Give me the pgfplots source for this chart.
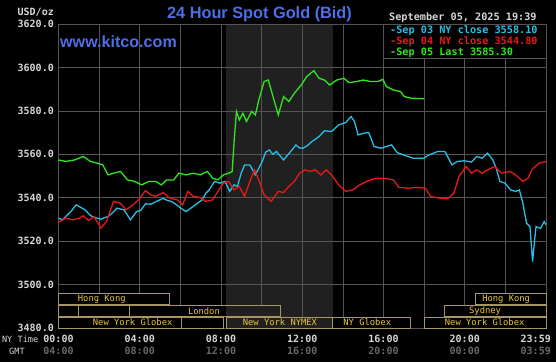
\documentclass[border=0pt]{standalone}
\usepackage{pgfplots}
\pgfplotsset{compat=1.18}
\usepackage{fontspec}
\setmainfont{Liberation Sans}
\newfontfamily\mono{DejaVu Sans Mono}
\definecolor{kcyan}{RGB}{40,190,230}
\definecolor{kred}{RGB}{232,25,25}
\definecolor{kgreen}{RGB}{50,230,30}
\definecolor{kgrid}{RGB}{85,85,85}
\definecolor{kshade}{RGB}{32,32,32}
\definecolor{kbox}{RGB}{165,150,100}
\definecolor{kgold}{RGB}{232,200,60}
\definecolor{ktitle}{RGB}{80,110,230}
\definecolor{klabel}{RGB}{215,215,215}
\definecolor{kgmt}{RGB}{105,105,105}
\begin{document}
\begin{tikzpicture}[x=1pt,y=1pt]
\fill[black] (-58.5,-34) rectangle (497.5,328);
\fill[kshade] (167.6,0) rectangle (274.2,304);
\begin{axis}[at={(0,0)}, anchor=south west, scale only axis,
  width=487.5pt, height=304pt,
  xmin=0, xmax=24, ymin=3480, ymax=3620,
  xtick={0,2,...,24}, xticklabels={},
  ytick={3480,3500,...,3620},
  yticklabels={3480.0,3500.0,3520.0,3540.0,3560.0,3580.0,3600.0,3620.0},
  yticklabel style={font=\mono\bfseries\fontsize{10}{12}\selectfont, text=klabel, inner sep=0pt, xshift=-4.5pt},
  major tick length=0pt,
  grid=major, grid style={kgrid, line width=0.6pt},
  axis line style={kgrid, line width=0.6pt},
]
\addplot[kcyan, line width=1.3pt] coordinates {
(0,3530.6) (0.2,3529.8) (0.35,3531.3) (0.6,3533.5) (0.87,3536.7) (1.05,3535.8) (1.31,3534.4) (1.5,3532.5) (1.66,3531.3) (2.09,3530.1)
(2.25,3530.8) (2.44,3531.3) (2.65,3533.0) (2.88,3535.2) (3.23,3534.4) (3.54,3529.8) (3.84,3533.6) (4.05,3534.2) (4.28,3537.2)
(4.55,3537.0) (4.80,3538.2) (5.15,3539.7) (5.35,3538.8) (5.58,3538.2) (5.8,3536.8) (6.02,3535.2) (6.28,3533.6) (6.63,3536.0)
(7.07,3539.0) (7.25,3542.0) (7.42,3543.6) (7.68,3547.5) (7.94,3546.7) (8.20,3547.5) (8.43,3542.9)
(8.64,3545.9) (8.81,3545.2) (9.0,3551.5) (9.16,3555.1) (9.42,3555.1) (9.69,3550.5) (10.03,3556.7)
(10.2,3561.0) (10.38,3562.0) (10.55,3560.0) (10.73,3561.3) (11.08,3557.4) (11.43,3561.3) (11.69,3564.3) (11.85,3563.0) (12.04,3562.8)
(12.25,3564.0) (12.48,3565.9) (12.83,3568.2) (13.09,3570.8) (13.44,3570.5) (13.79,3573.5) (14.14,3574.6)
(14.40,3577.4) (14.57,3575.1) (14.75,3568.9) (15.01,3569.7) (15.27,3570.0) (15.4,3567.0) (15.53,3563.6)
(15.88,3562.8) (16.14,3563.6) (16.40,3564.3) (16.67,3560.8) (17.10,3559.3) (17.45,3558.2)
(17.98,3558.2) (18.24,3559.7) (18.67,3561.3) (19.02,3561.3) (19.20,3558.2) (19.37,3555.1)
(19.63,3556.7) (19.98,3557.0) (20.33,3556.4) (20.59,3559.0) (20.86,3558.2) (21.12,3560.5)
(21.38,3557.4) (21.55,3553.6) (21.73,3547.5) (21.99,3546.7) (22.25,3543.6) (22.51,3542.9)
(22.69,3543.6) (22.86,3537.5) (23.04,3528.3) (23.21,3526.7) (23.34,3510.6) (23.44,3520.6)
(23.51,3526.7) (23.73,3525.9) (23.91,3529.0) (24.0,3527.5)
};
\addplot[kred, line width=1.3pt] coordinates {
(0,3528.6) (0.35,3530.6) (0.70,3529.8) (1.0,3530.5) (1.22,3531.7) (1.48,3529.5) (1.75,3531.3)
(2.09,3526.0) (2.36,3529.0) (2.71,3538.3) (3.05,3537.5) (3.32,3534.4) (3.66,3536.7)
(4.01,3539.7) (4.28,3543.3) (4.54,3541.3) (4.80,3540.6) (5.15,3542.4) (5.50,3539.7)
(5.85,3539.0) (6.11,3536.7) (6.37,3542.9) (6.63,3540.6) (6.98,3540.1) (7.24,3538.3)
(7.59,3539.0) (7.85,3542.9) (8.12,3546.7) (8.38,3547.5) (8.64,3543.6) (8.90,3545.2)
(9.16,3540.6) (9.42,3547.5) (9.65,3552.8) (9.86,3548.2) (10.12,3541.3) (10.47,3538.3)
(10.82,3542.9) (11.08,3542.4) (11.34,3545.2) (11.61,3547.5) (11.87,3551.3) (12.13,3552.8)
(12.39,3552.1) (12.65,3552.8) (12.91,3550.5) (13.18,3552.8) (13.44,3550.5) (13.79,3545.9)
(14.14,3542.9) (14.49,3543.6) (14.83,3545.9) (15.18,3547.5) (15.62,3549.0) (16.06,3549.0)
(16.49,3548.2) (16.75,3544.8) (17.19,3544.4) (17.71,3544.7) (18.06,3544.4) (18.32,3540.6)
(18.76,3539.8) (19.20,3539.8) (19.46,3542.1) (19.72,3549.8) (20.07,3554.4) (20.33,3551.3)
(20.59,3552.8) (20.86,3551.3) (21.12,3552.8) (21.47,3554.4) (21.82,3551.3) (22.25,3552.1)
(22.60,3549.8) (22.86,3547.5) (23.12,3549.0) (23.30,3552.8) (23.65,3555.9) (24.0,3556.7)
};
\addplot[kgreen, line width=1.3pt] coordinates {
(0,3557.4) (0.35,3556.7) (0.79,3557.4) (1.22,3559.0) (1.57,3556.7) (1.92,3555.9)
(2.18,3555.1) (2.44,3550.5) (2.71,3551.3) (3.05,3552.1) (3.40,3548.2) (3.75,3547.5)
(4.10,3545.9) (4.45,3547.5) (4.80,3547.5) (5.06,3545.9) (5.32,3548.2) (5.67,3548.2)
(5.93,3551.3) (6.28,3550.5) (6.63,3551.3) (6.98,3550.5) (7.33,3552.1) (7.59,3549.0)
(7.85,3548.2) (8.12,3550.5) (8.38,3551.3) (8.55,3552.1) (8.64,3565.1) (8.76,3579.7)
(8.90,3575.8) (9.08,3578.9) (9.25,3575.1) (9.51,3579.7) (9.69,3578.1) (9.86,3585.0)
(10.12,3593.5) (10.33,3594.2) (10.56,3586.6) (10.82,3578.1) (11.08,3586.6) (11.34,3584.3)
(11.61,3588.1) (11.95,3591.9) (12.22,3595.8) (12.57,3598.5) (12.83,3595.0) (13.09,3594.2)
(13.35,3591.9) (13.70,3594.2) (14.05,3595.0) (14.31,3593.0) (14.66,3593.5) (15.01,3594.2)
(15.36,3593.5) (15.71,3593.5) (15.97,3594.5) (16.14,3591.2) (16.49,3589.6) (16.84,3588.9)
(17.02,3586.6) (17.36,3585.8) (17.99,3585.6)
};
\end{axis}
% session boxes
\begin{scope}[x=20.3125pt, y=2.1714pt, box/.style={draw=kbox, line width=0.8pt}, lab/.style={text=kgold, font=\mono\fontsize{8.8}{10}\selectfont, inner sep=0pt}]
\filldraw[box, fill=black] (0,10.9) rectangle (5.46,15.8);
\filldraw[box, fill=black] (20.5,10.9) rectangle (24,15.8);
\filldraw[box, fill=black] (0,5.5) rectangle (0.96,10.4);
\filldraw[box, fill=black] (0.96,5.5) rectangle (3.49,10.4);
\fill[black] (3.49,5.5) rectangle (8.25,10.4);
\fill[kshade] (8.25,5.5) rectangle (10.94,10.4);
\draw[box] (3.49,5.5) rectangle (10.94,10.4);
\filldraw[box, fill=black] (19.0,5.5) rectangle (24,10.4);
\filldraw[box, fill=black] (0,0) rectangle (6.07,5.0);
\filldraw[box, fill=black] (6.07,0) rectangle (8.1,5.0);
\filldraw[box, fill=kshade] (8.25,0) rectangle (13.5,5.0);
\filldraw[box, fill=black] (13.5,0) rectangle (17.33,5.0);
\filldraw[box, fill=black] (18.03,0) rectangle (24,5.0);
\node[lab] at (2.13,13.35) {Hong Kong};
\node[lab] at (22.04,13.35) {Hong Kong};
\node[lab] at (7.16,7.95) {London};
\node[lab] at (21.0,7.95) {Sydney};
\node[lab] at (3.65,2.5) {New York Globex};
\node[lab] at (10.9,2.5) {New York NYMEX};
\node[lab] at (15.2,2.5) {NY Globex};
\node[lab] at (20.98,2.5) {New York Globex};
\end{scope}
% x labels
\begin{scope}[xl/.style={font=\mono\bfseries\fontsize{10}{12}\selectfont, inner sep=0pt}]
\foreach \h/\a/\b in {0/00:00/04:00, 4/04:00/08:00, 8/08:00/12:00, 12/12:00/16:00, 16/16:00/20:00, 20/20:00/00:00}{
  \node[xl, text=klabel] at (\h*20.3125,-11) {\a};
  \node[xl, text=kgmt] at (\h*20.3125,-23) {\b};
}
\node[xl, text=klabel, anchor=east] at (492.5,-11) {23:59};
\node[xl, text=kgmt, anchor=east] at (492.5,-23) {03:59};
\node[text=klabel, font=\mono\fontsize{8.6}{10}\selectfont, inner sep=0pt, anchor=east] at (-20,-11) {NY Time};
\node[text=klabel, font=\mono\fontsize{8.6}{10}\selectfont, inner sep=0pt] at (-41.5,-23) {GMT};
\node[text=klabel, font=\mono\bfseries\fontsize{10}{12}\selectfont, inner sep=0pt, anchor=east] at (-4.5,316) {USD/oz};
\end{scope}
% title and site
\node[text=ktitle, font=\bfseries\fontsize{16.3}{20}\selectfont, inner sep=0pt, anchor=base] at (201,309) {24 Hour Spot Gold (Bid)};
\node[text=ktitle, font=\bfseries\fontsize{16.1}{20}\selectfont, inner sep=0pt, anchor=base west] at (1.5,280) {www.kitco.com};
% legend
\filldraw[draw=kgrid, line width=0.6pt, fill=black] (325,270) rectangle (487.5,304);
\begin{scope}[lg/.style={font=\mono\bfseries\fontsize{10.2}{12}\selectfont, inner sep=0pt, anchor=base west}]
\node[lg, text=klabel] at (330.5,307) {September 05, 2025 19:39};
\node[lg, text=kcyan] at (331.5,294.5) {-Sep 03 NY close 3558.10};
\node[lg, text=kred] at (331.5,283.8) {-Sep 04 NY close 3544.80};
\node[lg, text=kgreen] at (331.5,272.5) {-Sep 05 Last 3585.30};
\end{scope}
\pgfresetboundingbox
\path[use as bounding box] (-58.5,-34) rectangle (497.5,328);
\end{tikzpicture}
\end{document}
